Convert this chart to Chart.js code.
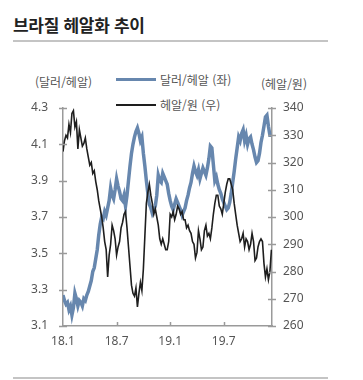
<!DOCTYPE html>
<html lang="ko">
<head>
<meta charset="utf-8">
<script src="https://cdn.jsdelivr.net/npm/chart.js@4.4.1/dist/chart.umd.min.js"></script>
<style>
  html, body { margin: 0; padding: 0; background: #fff; }
  #wrap { position: relative; width: 363px; height: 380px; font-family: "Noto Sans CJK KR", "Noto Sans", sans-serif; color: #555; }
  #title { position: absolute; left: 13px; top: 12px; font-size: 17px; font-weight: bold; color: #222; letter-spacing: -0.3px; }
  .rule { position: absolute; left: 13px; width: 315px; height: 2px; background: #c4c4c4; }
  .unit { position: absolute; font-size: 12px; top: 73px; color: #555; }
  .leg { position: absolute; left: 116px; font-size: 12px; color: #555; display: flex; align-items: center; }
  .leg i { display: inline-block; width: 40px; margin-right: 4px; }
  #chartBox { position: absolute; left: 0; top: 0; width: 363px; height: 380px; }
</style>
</head>
<body>
<div id="wrap">
  <div id="title">브라질 헤알화 추이</div>
  <div class="rule" style="top:40px"></div>
  <div class="unit" style="left:35px">(달러/헤알)</div>
  <div class="unit" style="left:261px;top:75px">(헤알/원)</div>
  <div id="legend"></div>
  <div id="chartBox"><canvas id="chartCanvas"></canvas></div>
  <div class="rule" style="top:377px"></div>
</div>
<script>
// x: months since Jan 2018, one point every 1/6 month
const step = 1 / 6;
const xTicks = [0, 6, 12, 18];
const xTickLabels = ["18.1", "18.7", "19.1", "19.7"];
const leftTicks = [3.1, 3.3, 3.5, 3.7, 3.9, 4.1, 4.3];
const rightTicks = [260, 270, 280, 290, 300, 310, 320, 330, 340];

const usdBrl = [
  3.27, 3.24, 3.22, 3.23, 3.19, 3.21, 3.16, 3.20, 3.28, 3.25,
  3.21, 3.24, 3.23, 3.21, 3.25, 3.24, 3.27, 3.29, 3.32, 3.35,
  3.40, 3.42, 3.47, 3.52, 3.60, 3.66, 3.70, 3.69, 3.73, 3.71,
  3.75, 3.79, 3.86, 3.82, 3.80, 3.85, 3.91, 3.87, 3.84, 3.80,
  3.79, 3.82, 3.76, 3.82, 3.90, 3.98, 4.05, 4.10, 4.14, 4.17,
  4.19, 4.16, 4.12, 4.14, 4.05, 3.98, 3.90, 3.83, 3.77, 3.75,
  3.72, 3.74, 3.76, 3.82, 3.93, 3.90, 3.89, 3.94, 3.92, 3.90,
  3.88, 3.83, 3.79, 3.76, 3.74, 3.77, 3.80, 3.78, 3.76, 3.74,
  3.71, 3.73, 3.75, 3.79, 3.82, 3.86, 3.89, 3.94, 3.98, 3.95,
  3.93, 3.96, 3.91, 3.94, 3.97, 3.95, 3.93, 3.97, 4.02, 4.09,
  4.08, 3.99, 3.90, 3.92, 3.88, 3.85, 3.83, 3.80, 3.78, 3.76,
  3.74, 3.75, 3.78, 3.83, 3.89, 3.95, 4.02, 4.08, 4.14, 4.12,
  4.16, 4.18, 4.12, 4.15, 4.10, 4.13, 4.14, 4.10, 4.07, 4.03,
  4.00, 4.01, 4.05, 4.11, 4.15, 4.20, 4.25, 4.26, 4.20, 4.15,
  4.15
];
const brlKrw = [
  324, 328, 330, 329, 334, 331, 338, 339, 333, 335,
  325, 332, 329, 326, 327, 329, 325, 322, 319, 320,
  316, 317, 313, 310, 306, 303, 300, 296, 291, 288,
  278, 286, 290, 297, 295, 292, 286, 289, 291, 296,
  298, 301, 302, 296, 289, 282, 275, 272, 271, 274,
  267, 272, 276, 273, 281, 293, 305, 309, 312, 308,
  305, 301, 303, 300, 297, 292, 290, 292, 290, 288,
  288, 291, 301, 300, 302, 299, 301, 304, 303, 301,
  302, 299, 299, 296, 297, 295, 294, 291, 290, 285,
  287, 295, 292, 288, 289, 295, 297, 293, 294, 292,
  296, 301, 305, 308, 308, 304, 303, 301, 305, 309,
  312, 314, 314, 312, 310, 305, 301, 297, 294, 291,
  292, 294, 289, 292, 291, 288, 290, 294, 291, 284,
  285, 289, 291, 292, 291, 283, 278, 281, 277, 280,
  288
];

const labelLeft = "달러/헤알 (좌)";
const labelRight = "헤알/원 (우)";
const blue = "#6787ae";
const black = "#1e1e1e";
const axisGray = "#9a9a9a";

const toPoints = arr => arr.map((v, i) => ({ x: i * step, y: v }));

// legend
const legend = document.getElementById("legend");
[[labelLeft, blue, 3, 71], [labelRight, black, 2, 96]].forEach(([txt, col, w, top]) => {
  const row = document.createElement("div");
  row.className = "leg";
  row.style.top = top + "px";
  row.innerHTML = `<i style="height:${w}px;background:${col}"></i><span>${txt}</span>`;
  legend.appendChild(row);
});

const fixTicks = vals => scale => { scale.ticks = vals.map(v => ({ value: v })); };

// tick marks that cross the axis lines
const crossTicks = {
  id: "crossTicks",
  afterDraw(chart) {
    const ctx = chart.ctx;
    const { y, y1, x } = chart.scales;
    ctx.save();
    ctx.strokeStyle = axisGray;
    ctx.lineWidth = 1.5;
    ctx.beginPath();
    leftTicks.forEach(v => {
      const py = Math.round(y.getPixelForValue(v)) + 0.5;
      ctx.moveTo(y.right - 4, py); ctx.lineTo(y.right + 4, py);
    });
    rightTicks.forEach(v => {
      const py = Math.round(y1.getPixelForValue(v)) + 0.5;
      ctx.moveTo(y1.left - 4, py); ctx.lineTo(y1.left + 4, py);
    });
    xTicks.slice(1).forEach(v => {
      const px = Math.round(x.getPixelForValue(v)) + 0.5;
      ctx.moveTo(px, x.top); ctx.lineTo(px, x.top - 4);
    });
    ctx.stroke();
    ctx.restore();
  }
};

const tickFont = { family: "'Noto Sans', sans-serif", size: 12 };

new Chart(document.getElementById("chartCanvas"), {
  type: "line",
  data: {
    datasets: [
      {
        label: labelRight,
        data: toPoints(brlKrw),
        yAxisID: "y1",
        borderColor: black,
        borderWidth: 1.6,
        pointRadius: 0,
        tension: 0
      },
      {
        label: labelLeft,
        data: toPoints(usdBrl),
        yAxisID: "y",
        borderColor: blue,
        borderWidth: 3.5,
        pointRadius: 0,
        tension: 0
      }
    ]
  },
  options: {
    responsive: true,
    maintainAspectRatio: false,
    animation: false,
    layout: { padding: { top: 108, left: 0, right: 0, bottom: 0 } },
    plugins: {
      legend: { display: false },
      tooltip: { enabled: false }
    },
    scales: {
      x: {
        type: "linear",
        min: 0,
        max: 23.4,
        afterBuildTicks: fixTicks(xTicks),
        afterFit: s => { s.height = 54; },
        grid: { display: false, drawTicks: false },
        border: { display: true, color: axisGray, width: 1.5 },
        ticks: {
          color: "#555",
          font: tickFont,
          padding: 8,
          maxRotation: 0,
          callback: v => xTickLabels[xTicks.indexOf(v)] ?? ""
        }
      },
      y: {
        position: "left",
        min: 3.1,
        max: 4.3,
        afterBuildTicks: fixTicks(leftTicks),
        afterFit: s => { s.width = 63; },
        grid: { display: false, drawTicks: false },
        border: { display: true, color: axisGray, width: 1.5 },
        ticks: { color: "#555", font: tickFont, padding: 15, callback: v => v.toFixed(1) }
      },
      y1: {
        position: "right",
        min: 260,
        max: 340,
        afterBuildTicks: fixTicks(rightTicks),
        afterFit: s => { s.width = 91; },
        grid: { display: false, drawTicks: false },
        border: { display: true, color: axisGray, width: 1.5 },
        ticks: { color: "#555", font: tickFont, padding: 11 }
      }
    }
  },
  plugins: [crossTicks]
});
</script>
</body>
</html>
